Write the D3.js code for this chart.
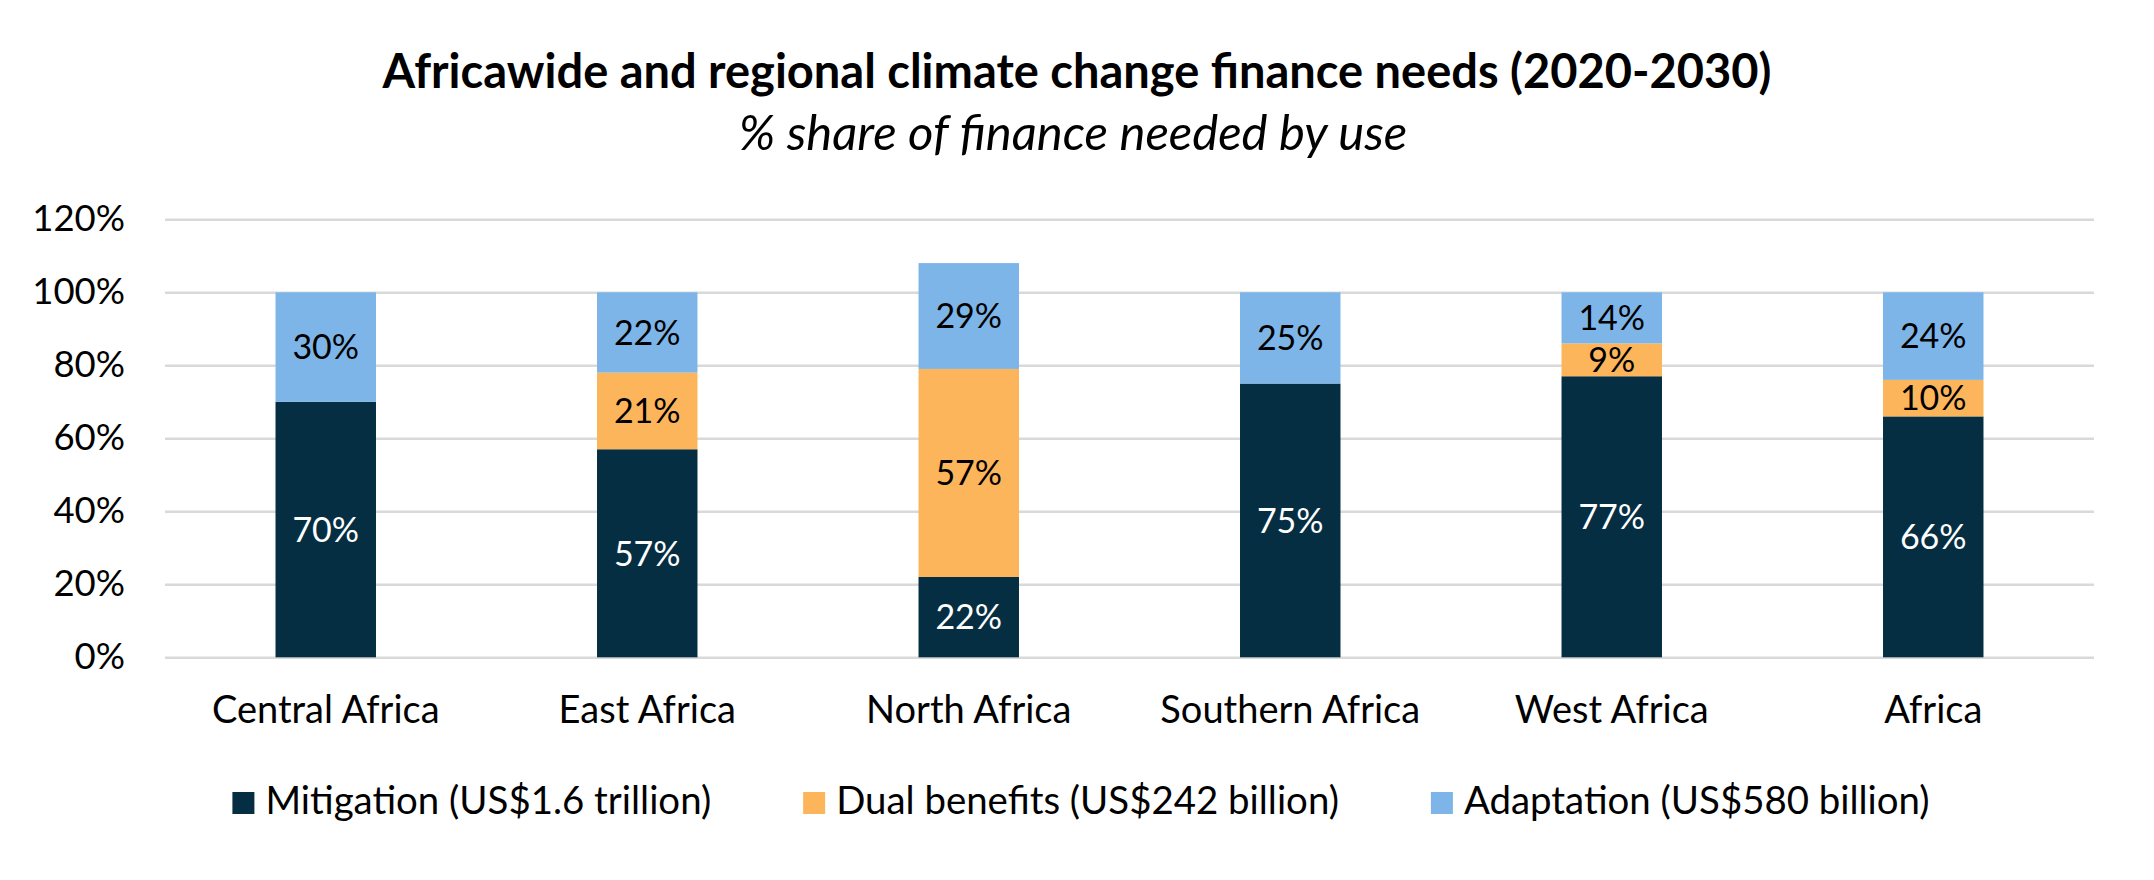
<!DOCTYPE html>
<html>
<head>
<meta charset="utf-8">
<script src="https://cdn.jsdelivr.net/npm/d3@7"></script>
<style>
  html, body { margin: 0; padding: 0; background: #fff; }
  svg { display: block; }
  text { font-family: Lato, "Open Sans", sans-serif; fill: #000; }
</style>
</head>
<body>
<svg id="chart" width="2154" height="880"></svg>
<script>
const categories = ["Central Africa", "East Africa", "North Africa", "Southern Africa", "West Africa", "Africa"];
const mitigation = [70, 57, 22, 75, 77, 66];
const dualBenefits = [0, 21, 57, 0, 9, 10];
const adaptation = [30, 22, 29, 25, 14, 24];
const seriesNames = ["Mitigation (US$1.6 trillion)", "Dual benefits (US$242 billion)", "Adaptation (US$580 billion)"];
const yTicks = [0, 20, 40, 60, 80, 100, 120];
const titleText = "Africawide and regional climate change finance needs (2020-2030)";
const subtitleText = "% share of finance needed by use";

const colors = ["#062E42", "#FDB55B", "#7DB5E8"];
const labelColors = ["#fff", "#000", "#000"];
const keys = ["mitigation", "dual", "adaptation"];

const table = categories.map((c, i) => ({
  category: c, mitigation: mitigation[i], dual: dualBenefits[i], adaptation: adaptation[i]
}));

const svg = d3.select("#chart");
const W = 2154;

const x = d3.scaleBand().domain(categories).range([165, 2094])
  .paddingInner(0.6875).paddingOuter(0.34375);
const y = d3.scaleLinear().domain([0, 120]).range([657.3, 219.3]);

// Title
svg.append("text").attr("x", 1077).attr("y", 88)
  .attr("text-anchor", "middle").attr("font-weight", 700).attr("font-size", 47)
  .text(titleText);
svg.append("text").attr("x", 1073).attr("y", 150)
  .attr("text-anchor", "middle").attr("font-style", "italic").attr("font-size", 49)
  .text(subtitleText);

// Grid
const yAxis = d3.axisLeft(y).tickValues(yTicks).tickSize(-(2094 - 165)).tickFormat(d => d + "%");
const gy = svg.append("g").attr("transform", "translate(165,0)").call(yAxis);
gy.select(".domain").remove();
gy.selectAll(".tick line").attr("stroke", "#D9D9D9").attr("stroke-width", 2.5);
gy.selectAll(".tick text").attr("x", -40).attr("font-size", 36.5)
  .attr("font-family", "Lato, 'Open Sans', sans-serif").attr("fill", "#000");

// Stacks
const stack = d3.stack().keys(keys)(table);
const layers = svg.append("g").selectAll("g").data(stack).join("g")
  .attr("fill", (d, i) => colors[i]);
layers.selectAll("rect").data(d => d).join("rect")
  .attr("x", d => x(d.data.category))
  .attr("width", x.bandwidth())
  .attr("y", d => y(d[1]))
  .attr("height", d => y(d[0]) - y(d[1]));

// Labels
const lab = svg.append("g");
stack.forEach((layer, li) => {
  layer.forEach(d => {
    const v = d[1] - d[0];
    if (v <= 0) return;
    lab.append("text")
      .attr("x", x(d.data.category) + x.bandwidth() / 2)
      .attr("y", (y(d[0]) + y(d[1])) / 2)
      .attr("dy", "0.36em")
      .attr("text-anchor", "middle")
      .attr("font-size", 34)
      .style("fill", labelColors[li])
      .text(v + "%");
  });
});

// Category axis
const xAxis = d3.axisBottom(x).tickSize(0).tickPadding(0);
const gx = svg.append("g").call(xAxis);
gx.select(".domain").remove();
gx.selectAll(".tick text").attr("y", 723).attr("dy", 0).attr("font-size", 38)
  .attr("font-family", "Lato, 'Open Sans', sans-serif").attr("fill", "#000");

// Legend
const legend = svg.append("g");
const items = seriesNames.map((n, i) => {
  const g = legend.append("g");
  g.append("rect").attr("width", 22).attr("height", 22).attr("y", 792).attr("fill", colors[i]);
  const t = g.append("text").attr("x", 33).attr("y", 814).attr("font-size", 38.4).text(n);
  return { g, w: 33 + t.node().getComputedTextLength() };
});
const gap = 92;
const total = d3.sum(items, d => d.w) + gap * (items.length - 1);
let cx = 1081 - total / 2;
items.forEach(it => { it.g.attr("transform", `translate(${cx},0)`); cx += it.w + gap; });
</script>
</body>
</html>
